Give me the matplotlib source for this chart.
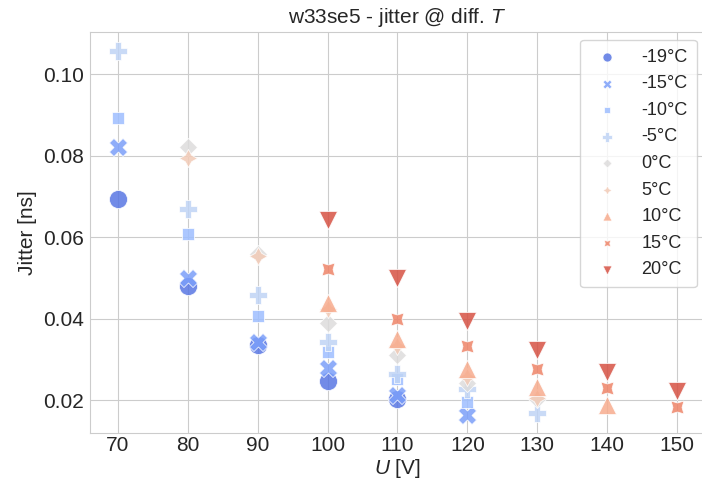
import matplotlib
matplotlib.use("Agg")
import matplotlib.pyplot as plt
import seaborn as sns

sns.set_style("whitegrid")
plt.rcParams["font.family"] = ["Liberation Sans", "DejaVu Sans"]
plt.rcParams["mathtext.fontset"] = "custom"
plt.rcParams["mathtext.it"] = "Liberation Sans:italic"
plt.rcParams["mathtext.rm"] = "Liberation Sans"

# jitter [ns] vs bias voltage U [V] for each temperature
temps = ["-19°C", "-15°C", "-10°C", "-5°C", "0°C", "5°C", "10°C", "15°C", "20°C"]

u_m19 = [70, 80, 90, 100, 110]
j_m19 = [0.0693, 0.0479, 0.0335, 0.0246, 0.0202]
u_m15 = [70, 80, 90, 100, 110, 120]
j_m15 = [0.0822, 0.0499, 0.0342, 0.0278, 0.0212, 0.0163]
u_m10 = [70, 80, 90, 100, 110, 120]
j_m10 = [0.0891, 0.0608, 0.0406, 0.0319, 0.0251, 0.0196]
u_m5 = [70, 80, 90, 100, 110, 120, 130]
j_m5 = [0.1057, 0.0669, 0.0458, 0.0342, 0.0265, 0.0226, 0.0169]
u_0 = [80, 90, 100, 110, 120, 130]
j_0 = [0.0820, 0.0558, 0.0388, 0.0310, 0.0241, 0.0202]
u_5 = [80, 90, 100, 110, 120, 130]
j_5 = [0.0793, 0.0554, 0.0424, 0.0333, 0.0256, 0.0206]
u_10 = [100, 110, 120, 130, 140]
j_10 = [0.0438, 0.0349, 0.0276, 0.0233, 0.0188]
u_15 = [100, 110, 120, 130, 140, 150]
j_15 = [0.0521, 0.0398, 0.0333, 0.0277, 0.0229, 0.0184]
u_20 = [100, 110, 120, 130, 140, 150]
j_20 = [0.0642, 0.0499, 0.0395, 0.0324, 0.0268, 0.0221]

voltages = [u_m19, u_m15, u_m10, u_m5, u_0, u_5, u_10, u_15, u_20]
jitters = [j_m19, j_m15, j_m10, j_m5, j_0, j_5, j_10, j_15, j_20]

markers = ["o", "X", (4, 0, 45), "P", (4, 0, 0), (4, 1, 0), "^", (4, 1, 45), "v"]
colors = sns.color_palette("coolwarm", len(temps))

fig = plt.figure(figsize=(7.02, 4.92), dpi=100)
ax = fig.add_axes([0.1282, 0.119, 0.876, 0.8167])

for u, j, t, m, c in zip(voltages, jitters, temps, markers, colors):
    ax.scatter(u, j, s=170, marker=m, color=c, alpha=0.85,
               edgecolor="white", linewidth=0.6, label=t)

ax.set_xlim(66, 154)
ax.set_ylim(0.0118, 0.1104)
ax.set_xticks(range(70, 151, 10))
ax.set_yticks([0.02, 0.04, 0.06, 0.08, 0.10])
ax.tick_params(axis="x", labelsize=15, length=0, pad=1.5)
ax.tick_params(axis="y", labelsize=15, length=0, pad=4.5)

ax.set_title("w33se5 - jitter @ diff. $T$", fontsize=15)
ax.set_xlabel("$U$ [V]", fontsize=15, labelpad=2)
ax.set_ylabel("Jitter [ns]", fontsize=15)

ax.legend(loc="upper right", fontsize=13, markerscale=0.5, frameon=True,
          borderpad=0.5, labelspacing=0.53, handletextpad=0.9,
          borderaxespad=0.45)

fig.savefig("out.png", dpi=100)
